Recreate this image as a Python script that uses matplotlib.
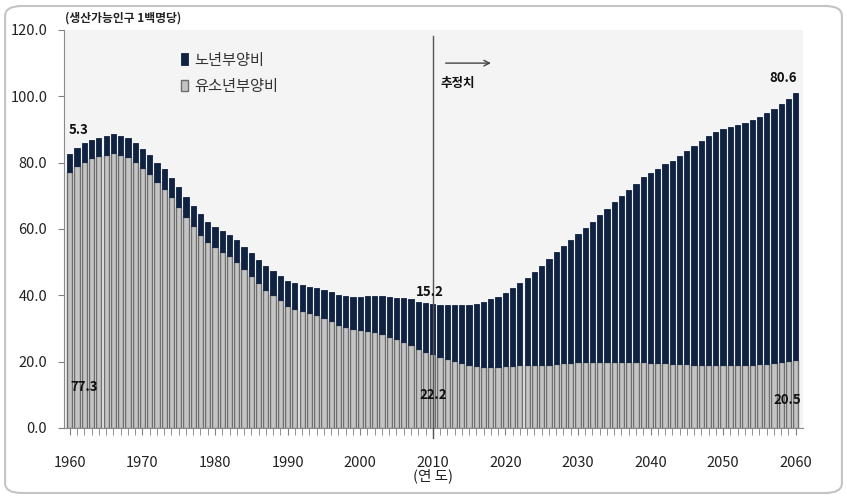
import matplotlib
matplotlib.use("Agg")
import matplotlib.pyplot as plt
from matplotlib.patches import FancyBboxPatch

plt.rcParams["font.family"] = ["Noto Sans CJK KR", "DejaVu Sans"]

# 연도 1960-2060
years = list(range(1960, 2061))

# 유소년부양비 (생산가능인구 100명당)
youth = [
    77.3, 79.0, 80.3, 81.3, 81.9, 82.4, 82.9, 82.4, 81.8, 80.1,
    78.3, 76.5, 74.2, 72.1, 69.6, 66.6, 63.5, 60.8, 58.3, 56.1,
    54.6, 53.1, 51.7, 50.1, 47.9, 45.8, 43.6, 41.7, 40.1, 38.5,
    36.9, 36.0, 35.3, 34.6, 34.0, 33.1, 32.2, 31.0, 30.4, 29.8,
    29.4, 29.3, 28.8, 28.3, 27.5, 26.7, 25.9, 25.0, 23.8, 23.0,
    22.2, 21.5, 20.8, 20.1, 19.5, 19.0, 18.7, 18.5, 18.5, 18.5,
    18.7, 18.8, 18.9, 18.9, 18.9, 18.9, 19.1, 19.3, 19.5, 19.7,
    19.9, 20.0, 20.0, 20.0, 20.0, 20.0, 19.9, 19.9, 19.8, 19.8,
    19.7, 19.6, 19.5, 19.4, 19.3, 19.2, 19.1, 19.0, 18.9, 18.9,
    18.9, 18.9, 18.9, 19.0, 19.1, 19.2, 19.4, 19.6, 19.9, 20.2,
    20.5,
]

# 노년부양비
elderly = [
    5.3, 5.4, 5.5, 5.5, 5.6, 5.6, 5.7, 5.7, 5.7, 5.7,
    5.7, 5.8, 5.8, 5.9, 5.9, 6.0, 6.0, 6.1, 6.1, 6.1,
    6.1, 6.3, 6.5, 6.6, 6.8, 6.9, 7.0, 7.1, 7.2, 7.3,
    7.4, 7.6, 7.8, 8.0, 8.3, 8.5, 8.8, 9.1, 9.4, 9.8,
    10.1, 10.6, 11.1, 11.6, 12.1, 12.6, 13.2, 13.8, 14.3, 14.8,
    15.2, 15.6, 16.3, 17.0, 17.6, 18.2, 18.7, 19.6, 20.3, 21.1,
    22.1, 23.5, 24.9, 26.2, 28.0, 30.0, 31.9, 33.7, 35.4, 37.0,
    38.6, 40.2, 42.2, 44.2, 46.0, 48.0, 50.0, 51.9, 53.9, 56.0,
    57.3, 58.5, 60.0, 61.1, 62.7, 64.3, 65.9, 67.5, 69.2, 70.2,
    71.1, 71.7, 72.4, 72.9, 73.8, 74.5, 75.5, 76.5, 77.8, 79.0,
    80.6,
]

tick_years = list(range(1960, 2061, 10))
tick_labels = [str(y) if y != 2010 else "2010\n(연 도)" for y in tick_years]

fig = plt.figure(figsize=(8.47, 4.99), dpi=100)
ax = fig.add_axes([0.0756, 0.1423, 0.8724, 0.7977])

# 외곽 둥근 테두리
border = FancyBboxPatch((0.006, 0.012), 0.988, 0.976,
                        boxstyle="round,pad=0,rounding_size=0.02",
                        transform=fig.transFigure, facecolor="none",
                        edgecolor="#c4c4c4", linewidth=1.5)
fig.patches.append(border)

ax.set_facecolor("#f4f4f4")

b_youth = ax.bar(years, youth, width=0.72, color="#c4c4c4",
                 edgecolor="#6e6e6e", linewidth=1.0, zorder=2)
b_old = ax.bar(years, elderly, width=0.72, bottom=youth, color="#0f2242",
               edgecolor="#0f2242", linewidth=0.6, zorder=2)

ax.set_xlim(1959.2, 2061.0)
ax.set_ylim(0, 120)
ax.set_yticks(range(0, 121, 20))
ax.set_yticklabels([f"{v:.1f}" for v in range(0, 121, 20)], fontsize=10.5, color="#222")
ax.set_xticks(tick_years)
ax.set_xticklabels(tick_labels, fontsize=10.5, color="#222", linespacing=0.9)
ax.set_xticks(years, minor=True)
ax.tick_params(axis="x", which="both", length=5, color="#808080", pad=15)
ax.tick_params(axis="y", length=4, color="#808080", pad=8)

for side in ["top", "right"]:
    ax.spines[side].set_visible(False)
ax.spines["left"].set_color("#8a8a8a")
ax.spines["bottom"].set_color("#8a8a8a")

# 2010 기준선과 추정치 화살표
ax.axvline(2010, ymin=-0.025, ymax=0.985, color="#555555", linewidth=1.0,
           zorder=3, clip_on=False)
ax.annotate("", xy=(2018.4, 110), xytext=(2011.4, 110),
            arrowprops=dict(arrowstyle="->", color="#444", linewidth=1.0))
ax.text(2013.4, 104, "추정치", fontsize=9, fontweight="bold", ha="center",
        va="center", color="#111")

# 값 라벨
lab = dict(fontsize=9.5, fontweight="bold", ha="center", va="center",
           textcoords="offset points", color="#111")
i0, i1, i2 = 0, years.index(2010), len(years) - 1
ax.annotate(f"{elderly[i0]:.1f}", xy=(years[i0], youth[i0] + elderly[i0]), xytext=(6, 17), **lab)
ax.annotate(f"{youth[i0]:.1f}", xy=(years[i0], 0), xytext=(10, 29.5), **lab)
ax.annotate(f"{elderly[i1]:.1f}", xy=(years[i1], youth[i1] + elderly[i1]), xytext=(-2, 8.6), **lab)
ax.annotate(f"{youth[i1]:.1f}", xy=(years[i1], 0), xytext=(0, 24), **lab)
ax.annotate(f"{elderly[i2]:.1f}", xy=(years[i2], youth[i2] + elderly[i2]), xytext=(-9, 10.6), **lab)
ax.annotate(f"{youth[i2]:.1f}", xy=(years[i2], 0), xytext=(-6, 20), **lab)

ax.legend([b_old, b_youth], ["노년부양비", "유소년부양비"], loc="upper left",
          bbox_to_anchor=(0.14, 0.98), frameon=False, fontsize=11,
          handlelength=0.45, handleheight=0.8, handletextpad=0.4,
          labelspacing=0.6, labelcolor="#333")

fig.text(65 / 847, 1 - 18 / 499, "(생산가능인구 1백명당)", fontsize=8.5,
         fontweight="bold", color="#222", va="center")

fig.savefig("out.png", dpi=100)
